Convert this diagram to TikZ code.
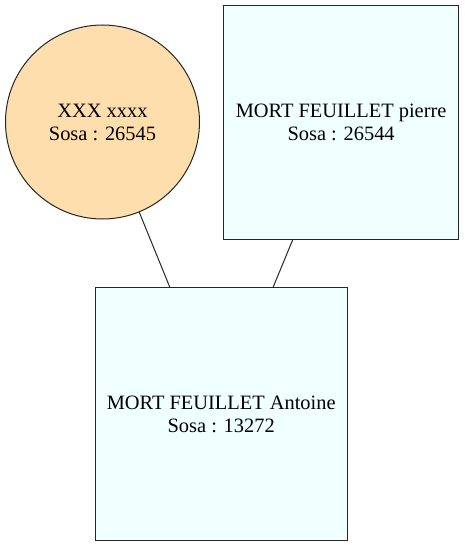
\documentclass[tikz,border=0pt]{standalone}
\usepackage{fontspec}
\setmainfont{Liberation Serif}
\definecolor{navajo}{HTML}{FFDEAD}
\definecolor{azurefill}{HTML}{F0FFFF}
\begin{document}
\begin{tikzpicture}[x=1pt,y=-1pt,
  every node/.style={font=\fontsize{20.4}{23}\selectfont, align=center, inner sep=0pt, line width=1pt, draw=black!85},
  person/.style={rectangle, fill=azurefill},
  spouse/.style={circle, fill=navajo},
  link/.style={line width=1pt, draw=black!85}]
\useasboundingbox (0,0) rectangle (464,545);
\node[spouse, minimum size=194pt] (mother) at (102.5,122) {XXX xxxx\\Sosa : 26545};
\node[person, minimum width=235pt, minimum height=234.5pt] (father) at (341.1,122.3) {MORT FEUILLET pierre\\Sosa : 26544};
\node[person, minimum width=252.3pt, minimum height=252.3pt] (child) at (221.2,413.9) {MORT FEUILLET Antoine\\Sosa : 13272};
\draw[link] (mother) -- (child);
\draw[link] (father) -- (child);
\end{tikzpicture}
\end{document}
